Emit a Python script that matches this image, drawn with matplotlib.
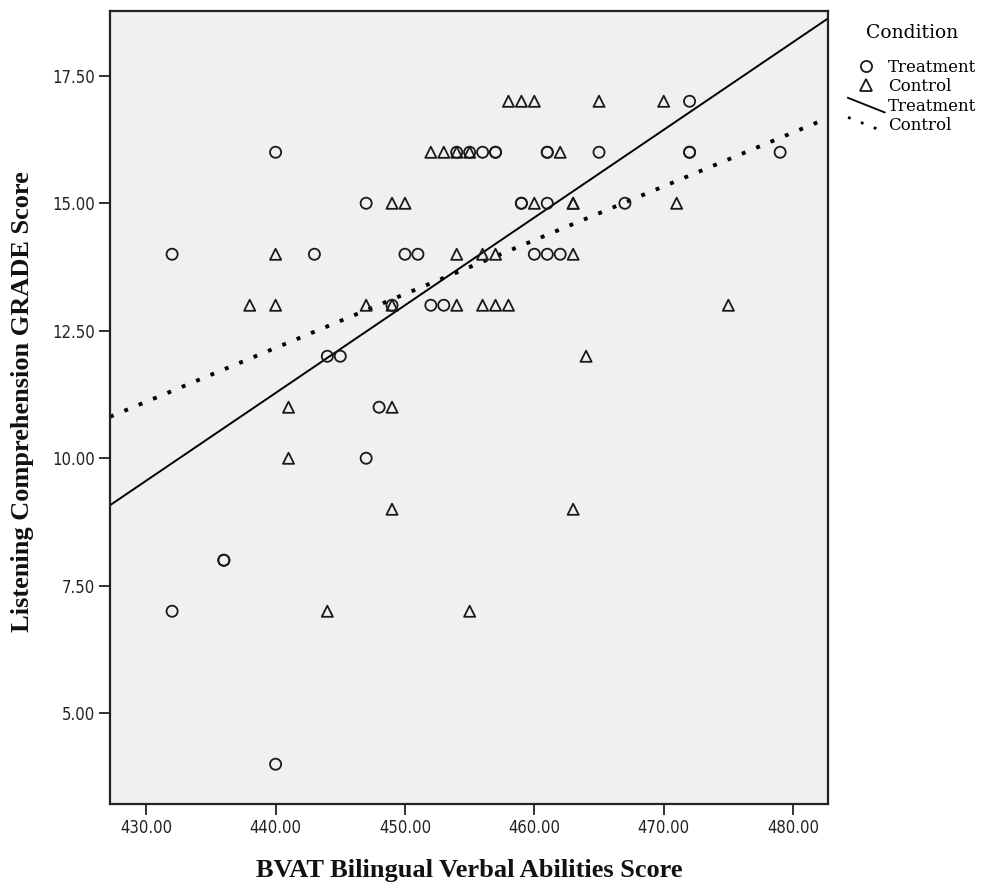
import numpy as np
import matplotlib
matplotlib.use("Agg")
import matplotlib.pyplot as plt
from matplotlib.lines import Line2D
from matplotlib.legend_handler import HandlerBase
from matplotlib.ticker import FormatStrFormatter

# ---- data ----
treat_x = [472,
           440, 454, 455, 456, 457, 457, 461, 461, 465, 472, 472, 479,
           447, 459, 459, 461, 467,
           432, 443, 450, 451, 460, 461, 462,
           449, 452, 453,
           444, 445,
           448,
           447,
           436, 436,
           432,
           440]
treat_y = [17,
           16, 16, 16, 16, 16, 16, 16, 16, 16, 16, 16, 16,
           15, 15, 15, 15, 15,
           14, 14, 14, 14, 14, 14, 14,
           13, 13, 13,
           12, 12,
           11,
           10,
           8, 8,
           7,
           4]
ctrl_x = [458, 459, 460, 465, 470,
          452, 453, 454, 455, 462,
          449, 450, 460, 463, 463, 471,
          440, 454, 456, 457, 463,
          438, 440, 447, 449, 454, 456, 457, 458, 475,
          464,
          441, 449,
          441,
          449, 463,
          444, 455]
ctrl_y = [17, 17, 17, 17, 17,
          16, 16, 16, 16, 16,
          15, 15, 15, 15, 15, 15,
          14, 14, 14, 14, 14,
          13, 13, 13, 13, 13, 13, 13, 13, 13,
          12,
          11, 11,
          10,
          9, 9,
          7, 7]

# fit lines: (intercept, slope)
fit_treat = (-64.40, 0.172)
fit_ctrl = (-34.30, 0.1056)

x_ticks = [430, 440, 450, 460, 470, 480]
y_ticks = [5.0, 7.5, 10.0, 12.5, 15.0, 17.5]
x_lim = (427.2, 482.7)
y_lim = (3.22, 18.77)

# ---- figure ----
W, H = 983, 884
fig = plt.figure(figsize=(W / 100, H / 100), dpi=100)
fig.patch.set_facecolor("white")
ax = fig.add_axes([110 / W, 1 - 804 / H, (828 - 110) / W, (804 - 11) / H])
ax.set_facecolor("#f0f0f0")

ec = "#1a1a1a"
ax.scatter(treat_x, treat_y, s=64, marker="o", facecolors="none",
           edgecolors=ec, linewidths=1.3, zorder=3)
ax.scatter(ctrl_x, ctrl_y, s=64, marker="^", facecolors="none",
           edgecolors=ec, linewidths=1.3, zorder=3)

xs = np.array(x_lim)
ax.plot(xs, fit_treat[0] + fit_treat[1] * xs, color="black", lw=1.4, zorder=2)
ax.plot(xs, fit_ctrl[0] + fit_ctrl[1] * xs, color="black", lw=2.8,
        linestyle=(0, (1, 3.0)), dash_capstyle="butt", zorder=2)

ax.set_xlim(*x_lim)
ax.set_ylim(*y_lim)
ax.set_xticks(x_ticks)
ax.set_yticks(y_ticks)
ax.xaxis.set_major_formatter(FormatStrFormatter("%.2f"))
ax.yaxis.set_major_formatter(FormatStrFormatter("%.2f"))
ax.tick_params(axis="both", direction="out", length=8, width=1.3, color="#222222",
               labelsize=12, labelcolor="#222222", pad=3)
for lab in ax.get_xticklabels() + ax.get_yticklabels():
    lab.set_fontfamily("DejaVu Sans")
    lab.set_fontstretch("condensed")
for sp in ax.spines.values():
    sp.set_linewidth(1.6)
    sp.set_color("#222222")

fig.text(469 / W, 1 - 877 / H, "BVAT Bilingual Verbal Abilities Score",
         fontsize=19, fontweight="bold", family="Liberation Serif",
         ha="center", va="baseline", color="#111111")
fig.text(23 / W, 1 - 402 / H, "Listening Comprehension GRADE Score",
         fontsize=19, fontweight="bold", family="Liberation Serif",
         ha="center", va="center", rotation=90, color="#111111")


class DiagHandler(HandlerBase):
    def create_artists(self, legend, orig_handle, xdescent, ydescent,
                       width, height, fontsize, trans):
        line = Line2D([-xdescent, -xdescent + width],
                      [-ydescent + height * 1.1, -ydescent - height * 0.15])
        self.update_prop(line, orig_handle, legend)
        line.set_transform(trans)
        return [line]


h_c = Line2D([], [], marker="o", linestyle="none", markersize=8,
             markerfacecolor="none", markeredgecolor=ec, markeredgewidth=1.3)
h_t = Line2D([], [], marker="^", linestyle="none", markersize=8,
             markerfacecolor="none", markeredgecolor=ec, markeredgewidth=1.3)
h_ls = Line2D([], [], color="black", lw=1.3)
h_ld = Line2D([], [], color="black", lw=2.0, linestyle=(0, (1, 4)))
leg = fig.legend([h_c, h_t, h_ls, h_ld],
                 ["Treatment", "Control", "Treatment", "Control"],
                 title="Condition", loc="upper left",
                 bbox_to_anchor=(848 / W, 1 - 24 / H), frameon=False,
                 prop={"family": "DejaVu Serif", "size": 12},
                 title_fontproperties={"family": "DejaVu Serif", "size": 13.5},
                 handlelength=2.2, handletextpad=0.2, labelspacing=0.15,
                 borderaxespad=0, borderpad=0,
                 handler_map={h_ls: DiagHandler(), h_ld: DiagHandler()})
leg._legend_box.sep = 12

fig.savefig("out.png", dpi=100)
